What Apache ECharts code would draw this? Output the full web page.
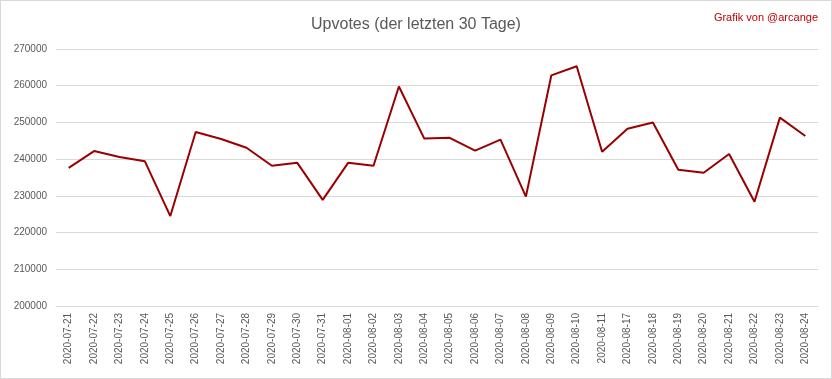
<!DOCTYPE html>
<html><head><meta charset="utf-8">
<script src="https://cdn.jsdelivr.net/npm/echarts@6/dist/echarts.min.js"></script>
<style>html,body{margin:0;padding:0;background:#fff}#c{width:830px;height:377px;border:1px solid #d9d9d9}</style>
</head><body><div id="c"></div>
<script>
const categories = ["2020-07-21","2020-07-22","2020-07-23","2020-07-24","2020-07-25","2020-07-26","2020-07-27","2020-07-28","2020-07-29","2020-07-30","2020-07-31","2020-08-01","2020-08-02","2020-08-03","2020-08-04","2020-08-05","2020-08-06","2020-08-07","2020-08-08","2020-08-09","2020-08-10","2020-08-11","2020-08-17","2020-08-18","2020-08-19","2020-08-20","2020-08-21","2020-08-22","2020-08-23","2020-08-24"];
const upvotes = [237600,242200,240600,239400,224500,247400,245500,243100,238200,239000,228900,239000,238200,259800,245600,245800,242300,245300,229800,262800,265300,242000,248300,250000,237100,236300,241400,228400,251300,246300];
const titleText = "Upvotes (der letzten 30 Tage)";
const creditText = "Grafik von @arcange";
const font = "Liberation Sans, Arial, sans-serif";
const chart = echarts.init(document.getElementById('c'));
chart.setOption({
  animation:false,
  title:[
    {text:titleText,left:'center',top:11,textStyle:{fontFamily:font,fontSize:16,fontWeight:'normal',color:'#595959'}},
    {text:creditText,right:8,top:6,textStyle:{fontFamily:font,fontSize:11,fontWeight:'normal',color:'#c00000'}}
  ],
  grid:{left:55,right:13,top:48,bottom:72},
  xAxis:{type:'category',data:categories,boundaryGap:true,
    axisLine:{lineStyle:{color:'#d9d9d9'}},axisTick:{show:false},
    axisLabel:{rotate:90,fontFamily:font,fontSize:10,color:'#595959',interval:0,margin:7}},
  yAxis:{type:'value',min:200000,max:270000,interval:10000,
    axisLine:{show:false},axisTick:{show:false},
    splitLine:{lineStyle:{color:'#d9d9d9'}},
    axisLabel:{fontFamily:font,fontSize:10,color:'#595959',margin:9,formatter:v=>String(v)}},
  series:[{type:'line',data:upvotes,symbol:'none',lineStyle:{color:'#990000',width:2}}]
});
</script></body></html>
